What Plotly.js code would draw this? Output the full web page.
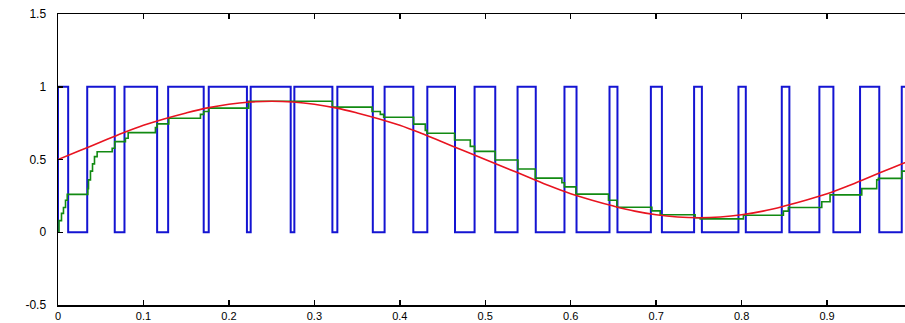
<!DOCTYPE html>
<html>
<head>
<meta charset="utf-8">
<script src="https://cdn.plot.ly/plotly-3.0.1.min.js"></script>
<style>
html,body{margin:0;padding:0;background:#fff;}
#chart{width:905px;height:323px;}
</style>
</head>
<body>
<div id="chart"></div>
<script>
// PWM (blue) switching instants and levels
const blueEdges = [0, 0, 0.0119, 0.0342, 0.0664, 0.0778, 0.1160, 0.1289, 0.1705, 0.1764,
  0.2211, 0.2255, 0.2723, 0.2766, 0.3211, 0.3269, 0.3684, 0.3822, 0.4158, 0.4322,
  0.4646, 0.4875, 0.5117, 0.5378, 0.5591, 0.5927, 0.6068, 0.6454, 0.6547, 0.6938,
  0.7067, 0.7444, 0.7535, 0.7963, 0.8049, 0.8470, 0.8559, 0.8910, 0.9074, 0.9386,
  0.9611, 0.9874, 1.0];
const blueLevels = [0, 1, 0, 1, 0, 1, 0, 1, 0, 1,
  0, 1, 0, 1, 0, 1, 0, 1, 0, 1,
  0, 1, 0, 1, 0, 1, 0, 1, 0, 1,
  0, 1, 0, 1, 0, 1, 0, 1, 0, 1,
  0, 1, 1];

// Filtered / held output (green staircase)
const greenT = [0.0000, 0.0012, 0.0041, 0.0064, 0.0088, 0.0108, 0.0349, 0.0357, 0.0380, 0.0404,
  0.0427, 0.0458, 0.0634, 0.0664, 0.0789, 0.0821, 0.1140, 0.1160, 0.1296, 0.1667,
  0.1705, 0.1764, 0.2232, 0.3211, 0.3675, 0.3772, 0.3811, 0.4161, 0.4298, 0.4318,
  0.4641, 0.4825, 0.4875, 0.5117, 0.5382, 0.5585, 0.5897, 0.5927, 0.6061, 0.6442,
  0.6540, 0.6950, 0.7047, 0.7456, 0.7515, 0.8021, 0.8489, 0.8547, 0.8938, 0.9035,
  0.9406, 0.9581, 0.9600, 0.9874, 1.0];
const greenV = [0.00, 0.08, 0.13, 0.17, 0.22, 0.26, 0.30, 0.36, 0.42, 0.47,
  0.52, 0.553, 0.577, 0.623, 0.646, 0.685, 0.72, 0.745, 0.784, 0.81,
  0.83, 0.853, 0.90, 0.86, 0.83, 0.81, 0.79, 0.743, 0.70, 0.68,
  0.634, 0.59, 0.556, 0.497, 0.435, 0.372, 0.34, 0.312, 0.262, 0.22,
  0.172, 0.147, 0.12, 0.10, 0.092, 0.117, 0.145, 0.17, 0.21, 0.257,
  0.30, 0.36, 0.37, 0.42, 0.42];

// Reference (red)
const redT = [0, 0.025, 0.05, 0.075, 0.1, 0.125, 0.15, 0.175, 0.2, 0.225,
  0.25, 0.275, 0.3, 0.325, 0.35, 0.375, 0.4, 0.425, 0.45, 0.475,
  0.5, 0.525, 0.55, 0.575, 0.6, 0.625, 0.65, 0.675, 0.7, 0.725,
  0.75, 0.775, 0.8, 0.825, 0.85, 0.875, 0.9, 0.925, 0.95, 0.975, 1.0];
const redV = [0.50, 0.56, 0.62, 0.68, 0.735, 0.78, 0.82, 0.855, 0.88, 0.895,
  0.90, 0.895, 0.88, 0.855, 0.82, 0.78, 0.735, 0.68, 0.62, 0.56,
  0.50, 0.44, 0.38, 0.32, 0.265, 0.22, 0.18, 0.145, 0.12, 0.105,
  0.10, 0.105, 0.12, 0.145, 0.18, 0.22, 0.265, 0.32, 0.38, 0.44, 0.50];

const xTicks = [0, 0.1, 0.2, 0.3, 0.4, 0.5, 0.6, 0.7, 0.8, 0.9];
const xTickText = ['0', '0.1', '0.2', '0.3', '0.4', '0.5', '0.6', '0.7', '0.8', '0.9'];
const yTicks = [-0.5, 0, 0.5, 1, 1.5];
const yTickText = ['-0.5', '0', '0.5', '1', '1.5'];

const traces = [
  {x: blueEdges, y: blueLevels, mode: 'lines', line: {shape: 'hv', color: '#1414d2', width: 2}, hoverinfo: 'skip'},
  {x: greenT, y: greenV, mode: 'lines', line: {shape: 'hv', color: '#128a12', width: 1.6}, hoverinfo: 'skip'},
  {x: redT, y: redV, mode: 'lines', line: {shape: 'spline', color: '#e81420', width: 1.6}, hoverinfo: 'skip'}
];

const xFont = {family: 'Liberation Sans, Arial, sans-serif', size: 11, color: '#000'};
const yFont = {family: 'Liberation Sans, Arial, sans-serif', size: 12, color: '#000'};
const layout = {
  width: 905, height: 323,
  margin: {l: 58, r: 0, t: 14, b: 18, pad: 0},
  paper_bgcolor: '#fff', plot_bgcolor: '#fff',
  showlegend: false,
  xaxis: {
    range: [0, 0.9912], tickvals: xTicks, ticktext: xTickText,
    showgrid: false, zeroline: false, showline: true, linecolor: '#000', linewidth: 1.5,
    mirror: 'ticks', ticks: 'inside', ticklen: 5, tickwidth: 1.5, tickcolor: '#000',
    tickfont: xFont, ticklabelstandoff: 0
  },
  yaxis: {
    range: [-0.5, 1.5], tickvals: yTicks, ticktext: yTickText,
    showgrid: false, zeroline: false, showline: true, linecolor: '#000', linewidth: 1.5,
    ticks: 'inside', ticklen: 5, tickwidth: 1.5, tickcolor: '#000',
    tickfont: yFont, ticklabelstandoff: 8
  }
};

Plotly.newPlot('chart', traces, layout, {staticPlot: true, displayModeBar: false});
</script>
</body>
</html>
